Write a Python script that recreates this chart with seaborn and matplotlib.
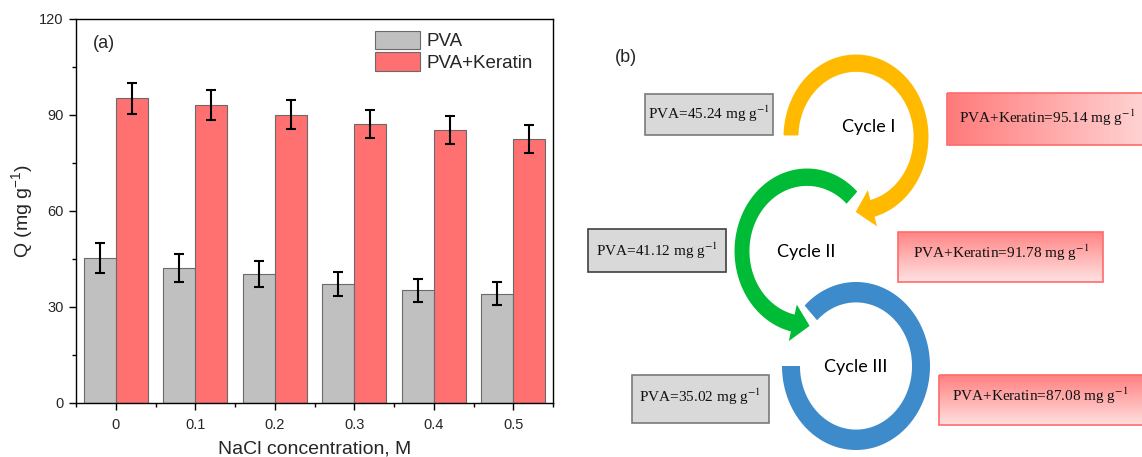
import numpy as np
import pandas as pd
import matplotlib
matplotlib.use("Agg")
import matplotlib.pyplot as plt
import seaborn as sns
from matplotlib.patches import Polygon, Rectangle
from matplotlib.ticker import MultipleLocator, FixedLocator
from matplotlib.colors import to_rgb

# ---------------- data ----------------
concentrations = ["0", "0.1", "0.2", "0.3", "0.4", "0.5"]
series_names = ["PVA", "PVA+Keratin"]
q_pva = [45.3, 42.2, 40.3, 37.1, 35.2, 34.2]
q_pva_keratin = [95.2, 93.1, 90.1, 87.3, 85.2, 82.5]
err_pva = [4.7, 4.3, 4.2, 3.8, 3.6, 3.5]
err_pva_keratin = [4.8, 4.8, 4.6, 4.4, 4.4, 4.3]
y_ticks = [0, 30, 60, 90, 120]

cycle_names = ["Cycle I", "Cycle II", "Cycle III"]
cycle_pva = ["45.24", "41.12", "35.02"]
cycle_pva_keratin = ["95.14", "91.78", "87.08"]

# ---------------- style ----------------
sns.set_style("ticks")
plt.rcParams["font.family"] = ["Liberation Sans", "DejaVu Sans"]
plt.rcParams["mathtext.fontset"] = "custom"
plt.rcParams["mathtext.rm"] = "Liberation Sans"
plt.rcParams["mathtext.it"] = "Liberation Sans:italic"
plt.rcParams["mathtext.bf"] = "Liberation Sans:bold"

GRAY = "#C0C0C0"
RED = "#FF7070"

W, H = 1142, 457
fig = plt.figure(figsize=(W / 100, H / 100), dpi=100)

# ---------------- panel (a) ----------------
ax = fig.add_axes([76 / W, 54 / H, 477 / W, 384 / H])

df = pd.DataFrame({
    "conc": concentrations * 2,
    "Q": q_pva + q_pva_keratin,
    "series": [series_names[0]] * len(concentrations) + [series_names[1]] * len(concentrations),
})

sns.barplot(data=df, x="conc", y="Q", hue="series", order=concentrations,
            hue_order=series_names, palette=[GRAY, RED], saturation=1,
            errorbar=None, width=0.8, edgecolor="#6a6a6a", linewidth=0.8, ax=ax)

for container, errs in zip(ax.containers, [err_pva, err_pva_keratin]):
    for bar, e in zip(container, errs):
        ax.errorbar(bar.get_x() + bar.get_width() / 2, bar.get_height(), yerr=e,
                    fmt="none", ecolor="black", elinewidth=1.5, capsize=3.6,
                    capthick=1.5, zorder=5)

ax.set_xlim(-0.5, 5.5)
ax.set_ylim(0, 120)
ax.set_yticks(y_ticks)
ax.yaxis.set_minor_locator(MultipleLocator(15))
ax.xaxis.set_minor_locator(FixedLocator(np.arange(-0.5, 6.0, 1.0)))
ax.tick_params(axis="both", which="major", direction="out", length=5, width=1,
               labelsize=10.5, color="black")
ax.tick_params(axis="both", which="minor", direction="out", length=3, width=1,
               color="black")
ax.tick_params(axis="x", which="major", pad=6)
ax.tick_params(axis="y", which="major", pad=4)
for s in ax.spines.values():
    s.set_linewidth(1.0)
    s.set_color("black")

ax.set_xlabel("NaCl concentration, M", fontsize=14, labelpad=6)
ax.set_ylabel("Q (mg g$^{-1}$)", fontsize=14, labelpad=3)

handles, labels = ax.get_legend_handles_labels()
ax.legend(handles, labels, loc="upper left", bbox_to_anchor=(0.627, 0.97),
          frameon=False, fontsize=13.5, handlelength=2.4, handleheight=1.15,
          handletextpad=0.35, labelspacing=0.12, borderpad=0, borderaxespad=0)

ax.text(0.036, 0.9375, "(a)", transform=ax.transAxes, fontsize=13,
        ha="left", va="center")

# ---------------- panel (b) ----------------
axb = fig.add_axes([580 / W, 0, (W - 580) / W, 1])
axb.axis("off")


def ring_arc(cx, cy, rx, ry, inner, t0, t1, head_len=None, ext=0.15):
    ts = np.radians(np.linspace(t0, t1, 200))
    outer_pts = [(cx + rx * np.cos(a), cy - ry * np.sin(a)) for a in ts]
    inner_pts = [(cx + rx * inner * np.cos(a), cy - ry * inner * np.sin(a)) for a in ts[::-1]]
    if head_len is None:
        return outer_pts + inner_pts
    sign = np.sign(t1 - t0)
    a1 = np.radians(t1)
    at = np.radians(t1 + sign * head_len)
    rmid = (1 + inner) / 2 + 0.02
    p_out = (cx + rx * (1 + ext) * np.cos(a1), cy - ry * (1 + ext) * np.sin(a1))
    p_tip = (cx + rx * rmid * np.cos(at), cy - ry * rmid * np.sin(at))
    p_in = (cx + rx * (inner - ext) * np.cos(a1), cy - ry * (inner - ext) * np.sin(a1))
    return outer_pts + [p_out, p_tip, p_in] + inner_pts


RX, RY, INNER = 74, 84, 0.757
arcs = [
    # (cx, cy, t0, t1, head, color, edge)
    (856, 366, 134, -180, None, "#3E8BCB", "none"),
    (807, 251, 45, 256, 18, "#00BB35", "white"),
    (856, 137, 180, -74, 18, "#FFBA00", "white"),
]
for cx, cy, t0, t1, head, col, edge in arcs:
    pts = ring_arc(cx, cy, RX, RY, INNER, t0, t1, head)
    axb.add_patch(Polygon(pts, closed=True, facecolor=col, edgecolor=edge,
                          linewidth=2.2 if edge != "none" else 0, zorder=3,
                          joinstyle="miter"))

cycle_pos = [(869, 127), (806, 252), (856, 367)]
for name, (x, y) in zip(cycle_names, cycle_pos):
    axb.text(x, y, name, fontsize=13, family=["Lato", "DejaVu Sans"],
             ha="center", va="center", color="black", zorder=6)

axb.text(626, 57, "(b)", fontsize=13, ha="center", va="center")


def gradient_box(x0, y0, x1, y1, c_start, c_end, direction):
    t = np.linspace(0, 1, 256)
    c0 = np.array(to_rgb(c_start))
    c1 = np.array(to_rgb(c_end))
    cols = c0[None, :] * (1 - t[:, None]) + c1[None, :] * t[:, None]
    img = cols[None, :, :] if direction == "h" else cols[:, None, :]
    axb.imshow(img, extent=(x0, x1, y1, y0), aspect="auto", origin="upper",
               interpolation="bilinear", zorder=1)
    axb.add_patch(Rectangle((x0, y0), x1 - x0, y1 - y0, fill=False,
                            edgecolor="#FF6B6B", linewidth=1.2, zorder=2))


gray_boxes = [(645, 94, 773, 135, "#7a7a7a"), (588, 229, 726, 272, "#404040"),
              (632, 375, 769, 423, "#7a7a7a")]
gray_text_pos = [(709, 114), (657, 251), (700, 397)]
for (x0, y0, x1, y1, ec), v, (tx, ty) in zip(gray_boxes, cycle_pva, gray_text_pos):
    axb.add_patch(Rectangle((x0, y0), x1 - x0, y1 - y0, facecolor="#D9D9D9",
                            edgecolor=ec, linewidth=1.2, zorder=2))
    axb.text(tx, ty, f"PVA={v} mg g$^{{-1}}$", fontsize=11,
             family=["Liberation Serif", "DejaVu Serif"], math_fontfamily="stix",
             ha="center", va="center", color="#111111", zorder=6)

red_boxes = [(947, 93, 1160, 145, "#FF7A7A", "#FFDADA", "h"),
             (898, 232, 1103, 282, "#FF8585", "#FFE2E2", "v"),
             (939, 375, 1160, 425, "#FF8080", "#FFE0E0", "v")]
red_text_pos = [(1047, 118), (1001, 253), (1040, 396)]
for (x0, y0, x1, y1, c0, c1, d), v, (tx, ty) in zip(red_boxes, cycle_pva_keratin, red_text_pos):
    gradient_box(x0, y0, x1, y1, c0, c1, d)
    axb.text(tx, ty, f"PVA+Keratin={v} mg g$^{{-1}}$", fontsize=11,
             family=["Liberation Serif", "DejaVu Serif"], math_fontfamily="stix",
             ha="center", va="center", color="#111111", zorder=6)

axb.set_xlim(580, W)
axb.set_ylim(H, 0)

fig.savefig("out.png", dpi=100)
